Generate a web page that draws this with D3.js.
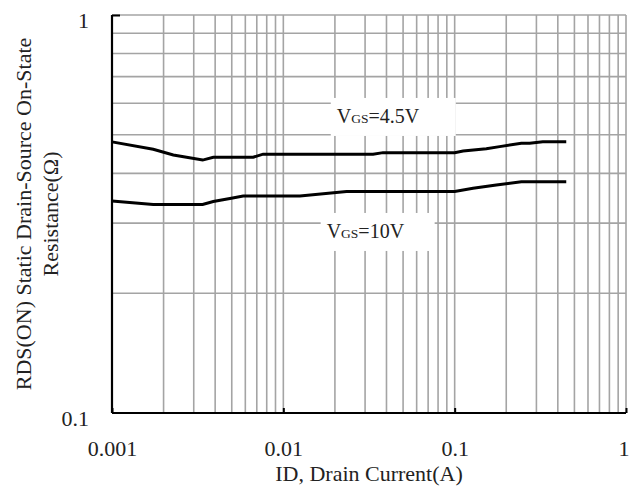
<!DOCTYPE html>
<html>
<head>
<meta charset="utf-8">
<script src="https://cdn.jsdelivr.net/npm/d3@7"></script>
<style>
  body { margin: 0; background: #fff; }
  svg text { font-family: "Liberation Serif", "Times New Roman", serif; fill: #222; }
</style>
</head>
<body>
<div id="chart"></div>
<script>
// drain current (A) and RDS(on) (ohm)
const idVgs45  = [0.001, 0.00174, 0.00228, 0.00338, 0.0039, 0.00667, 0.00762, 0.0334, 0.0382, 0.1, 0.112, 0.153, 0.183, 0.245, 0.274, 0.327, 0.448];
const rdsVgs45 = [0.480, 0.460, 0.445, 0.432, 0.439, 0.439, 0.447, 0.447, 0.451, 0.451, 0.455, 0.461, 0.467, 0.476, 0.476, 0.480, 0.480];

const idVgs10  = [0.001, 0.00174, 0.00338, 0.0039, 0.00488, 0.00583, 0.0125, 0.0234, 0.1, 0.128, 0.175, 0.245, 0.448];
const rdsVgs10 = [0.341, 0.334, 0.334, 0.340, 0.346, 0.351, 0.351, 0.360, 0.360, 0.367, 0.374, 0.381, 0.381];

const xTicks = [0.001, 0.01, 0.1, 1];
const xTickLabels = ["0.001", "0.01", "0.1", "1"];
const yTicks = [0.1, 1];
const yTickLabels = ["0.1", "1"];

const margin = { top: 15, right: 3, bottom: 82, left: 112 },
      width = 629 - margin.left - margin.right,
      height = 495 - margin.top - margin.bottom;

const svg = d3.select('#chart').append('svg')
    .attr('width', 629)
    .attr('height', 495)
    .append('g')
    .attr('transform', `translate(${margin.left},${margin.top})`);

const x = d3.scaleLog().domain([0.001, 1]).range([0, width]);
const y = d3.scaleLog().domain([0.1, 1]).range([height, 0]);

// grid
svg.append('g')
    .selectAll('line')
    .data(x.ticks())
    .enter().append('line')
    .attr('x1', d => x(d)).attr('x2', d => x(d))
    .attr('y1', 0).attr('y2', height)
    .attr('stroke', '#a4a4a4').attr('stroke-width', 1.6);

svg.append('g')
    .selectAll('line')
    .data(y.ticks())
    .enter().append('line')
    .attr('x1', 0).attr('x2', width)
    .attr('y1', d => y(d)).attr('y2', d => y(d))
    .attr('stroke', '#a4a4a4').attr('stroke-width', 1.6);

// curves
const line = d3.line().x(d => x(d[0])).y(d => y(d[1]));

svg.append('path')
    .datum(d3.zip(idVgs45, rdsVgs45))
    .attr('d', line)
    .attr('fill', 'none').attr('stroke', '#000').attr('stroke-width', 3);

svg.append('path')
    .datum(d3.zip(idVgs10, rdsVgs10))
    .attr('d', line)
    .attr('fill', 'none').attr('stroke', '#000').attr('stroke-width', 3);

// curve labels on white boxes
function curveLabel(id, rds, value, boxW) {
    const g = svg.append('g').attr('transform', `translate(${x(id)},${y(rds)})`);
    g.append('rect')
        .attr('x', -6).attr('y', -25)
        .attr('width', boxW).attr('height', 38)
        .attr('fill', '#fff');
    const t = g.append('text').style('font-size', '20px');
    t.append('tspan').text('V');
    t.append('tspan').style('font-size', '13.5px').text('GS');
    t.append('tspan').text('=' + value);
}
curveLabel(0.0205, 0.5355, '4.5V', 125);
curveLabel(0.0179, 0.2753, '10V', 114);

// axes
const xAxis = svg.append('g')
    .attr('transform', `translate(0,${height})`)
    .call(d3.axisBottom(x).tickValues(xTicks).tickFormat((d, i) => xTickLabels[i]).tickSize(0));
xAxis.select('.domain').remove();
xAxis.selectAll('text')
    .attr('dy', null).attr('y', 43)
    .attr('fill', '#222')
    .style('font-size', '22px');
// keep the last label inside the picture
xAxis.selectAll('text')
    .filter(d => d === 1)
    .attr('text-anchor', 'end')
    .attr('x', 3);

const yAxis = svg.append('g')
    .call(d3.axisLeft(y).tickValues(yTicks).tickFormat((d, i) => yTickLabels[i]).tickSize(0).tickPadding(23));
yAxis.select('.domain').remove();
yAxis.selectAll('text')
    .attr('dy', null).attr('y', 12)
    .attr('fill', '#222')
    .style('font-size', '22px');

// black tick marks inside the frame
svg.append('g')
    .attr('transform', `translate(0,${height})`)
    .call(d3.axisBottom(x).tickValues(xTicks).tickSize(-5).tickFormat(''))
    .call(g => g.select('.domain').remove())
    .selectAll('line').attr('stroke', '#000').attr('stroke-width', 2);

svg.append('g')
    .call(d3.axisLeft(y).tickValues([1]).tickSize(-8).tickFormat(''))
    .call(g => g.select('.domain').remove())
    .selectAll('line').attr('stroke', '#000').attr('stroke-width', 2);

// frame: left and bottom in black
svg.append('line')
    .attr('x1', 0).attr('x2', 0).attr('y1', 0).attr('y2', height)
    .attr('stroke', '#000').attr('stroke-width', 2.2);
svg.append('line')
    .attr('x1', 0).attr('x2', width).attr('y1', height).attr('y2', height)
    .attr('stroke', '#000').attr('stroke-width', 2.2);

// axis titles
svg.append('text')
    .attr('x', width / 2)
    .attr('y', height + 68)
    .attr('text-anchor', 'middle')
    .style('font-size', '22px')
    .text('ID, Drain Current(A)');

const yTitle = svg.append('text')
    .attr('transform', 'rotate(-90)')
    .attr('text-anchor', 'middle')
    .style('font-size', '22px');
yTitle.append('tspan')
    .attr('x', -height / 2).attr('y', -81)
    .text('RDS(ON) Static Drain-Source On-State');
yTitle.append('tspan')
    .attr('x', -height / 2).attr('y', -54)
    .text('Resistance(\u03A9)');
</script>
</body>
</html>
